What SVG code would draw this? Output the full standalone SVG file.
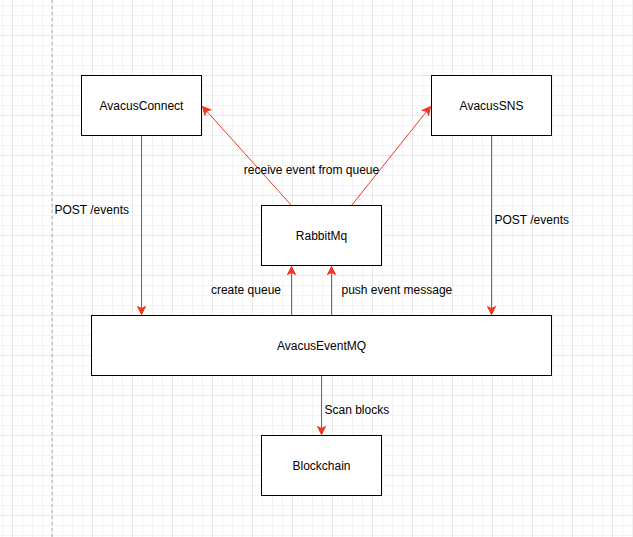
<svg xmlns="http://www.w3.org/2000/svg" width="633" height="537" viewBox="0 0 633 537">
<style>
.node rect{fill:#ffffff;stroke:#000000;stroke-width:1}
.node text,.lbl{font-family:"Liberation Sans",Arial,Helvetica,sans-serif;font-size:12px;fill:#000000}
.node text{text-anchor:middle;dominant-baseline:central}
.lbl{dominant-baseline:central}
.edge{fill:none;stroke:#f2391f;stroke-width:1}
</style>
<defs>
<pattern id="minor" x="2" y="5" width="10" height="10" patternUnits="userSpaceOnUse">
<path d="M0.5,0 V10 M0,0.5 H10" fill="none" stroke="#f3f3f3" stroke-width="1"/>
</pattern>
<pattern id="major" x="12" y="35" width="40" height="40" patternUnits="userSpaceOnUse">
<path d="M0,0 V40 M0,0 H40" fill="none" stroke="#dedede" stroke-width="1"/>
</pattern>
<marker id="arr" markerUnits="userSpaceOnUse" markerWidth="10" markerHeight="10" viewBox="0 0 10 10" refX="9" refY="5" orient="auto">
<path d="M1,1 L9,5 L1,9 L3,5 z" fill="#f2391f" stroke="#f2391f" stroke-width="1"/>
</marker>
</defs>
<rect width="633" height="537" fill="#ffffff"/>
<rect width="633" height="537" fill="url(#minor)"/>
<rect width="633" height="537" fill="url(#major)"/>
<line x1="52" y1="0" x2="52" y2="537" stroke="#aaaaaa" stroke-width="1" stroke-dasharray="3,3"/>

<g id="connectors">
<path class="edge" d="M141.5,135.5 V314.5" marker-end="url(#arr)"/>
<path class="edge" d="M491.5,135.5 V314.5" marker-end="url(#arr)"/>
<path class="edge" d="M291.5,205.5 L202.5,106.5" marker-end="url(#arr)"/>
<path class="edge" d="M351.5,205.5 L430.5,106.5" marker-end="url(#arr)"/>
<path class="edge" d="M291.5,315.5 V266.5" marker-end="url(#arr)"/>
<path class="edge" d="M331.5,315.5 V266.5" marker-end="url(#arr)"/>
<path class="edge" d="M321.5,375.5 V434.5" marker-end="url(#arr)"/>
<text class="lbl" x="54.5" y="210">POST /events</text>
<text class="lbl" x="494.5" y="220">POST /events</text>
<text class="lbl" x="311.5" y="170" text-anchor="middle">receive event from queue</text>
<text class="lbl" x="281" y="290" text-anchor="end">create queue</text>
<text class="lbl" x="341.5" y="290">push event message</text>
<text class="lbl" x="324.5" y="410">Scan blocks</text>
</g>

<g id="avacus-connect" class="node"><rect x="81.5" y="75.5" width="120" height="60"/><text x="141.5" y="105.5">AvacusConnect</text></g>
<g id="avacus-sns" class="node"><rect x="431.5" y="75.5" width="120" height="60"/><text x="491.5" y="105.5">AvacusSNS</text></g>
<g id="rabbitmq" class="node"><rect x="261.5" y="205.5" width="120" height="60"/><text x="321.5" y="235.5">RabbitMq</text></g>
<g id="avacus-eventmq" class="node"><rect x="91.5" y="315.5" width="460" height="60"/><text x="321.5" y="345.5">AvacusEventMQ</text></g>
<g id="blockchain" class="node"><rect x="261.5" y="435.5" width="120" height="60"/><text x="321.5" y="465.5">Blockchain</text></g>
</svg>
